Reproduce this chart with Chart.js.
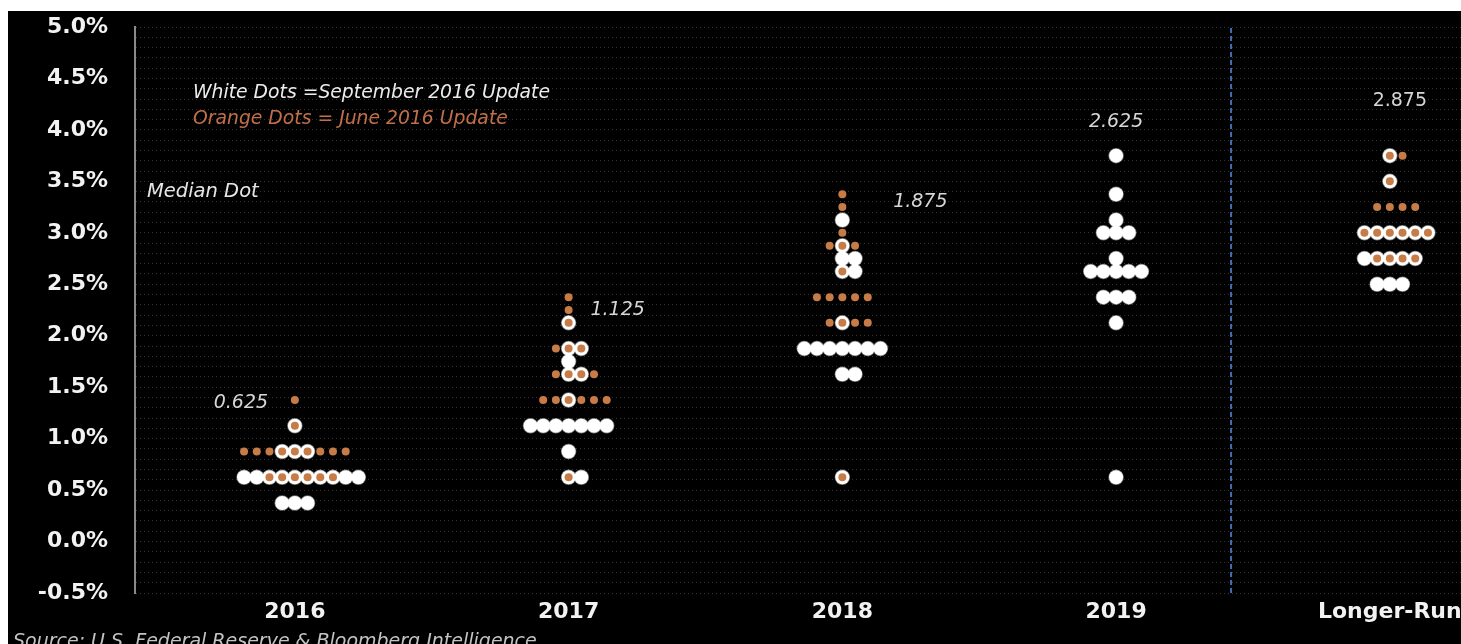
<!DOCTYPE html>
<html>
<head>
<meta charset="utf-8">
<script src="https://cdn.jsdelivr.net/npm/chart.js@4.4.1/dist/chart.umd.min.js"></script>
<style>
html,body{margin:0;padding:0;background:#fff;overflow:hidden}
#wrap{position:absolute;left:8px;top:11px;width:1453px;height:633px;background:#000}
</style>
</head>
<body>
<div id="wrap"><canvas id="c"></canvas></div>
<script>
// FOMC dot plot: one entry per participant (fed funds rate, %)
const categories = ['2016', '2017', '2018', '2019', 'Longer-Run'];

const sept2016 = [0.375,0.375,0.375, 0.625,0.625,0.625,0.625,0.625,0.625,0.625,0.625,0.625,0.625, 0.875,0.875,0.875, 1.125];
const sept2017 = [0.625,0.625, 0.875, 1.125,1.125,1.125,1.125,1.125,1.125,1.125, 1.375, 1.625,1.625, 1.75, 1.875,1.875, 2.125];
const sept2018 = [0.625, 1.625,1.625, 1.875,1.875,1.875,1.875,1.875,1.875,1.875, 2.125, 2.625,2.625, 2.75,2.75, 2.875, 3.125];
const sept2019 = [0.625, 2.125, 2.375,2.375,2.375, 2.625,2.625,2.625,2.625,2.625, 2.75, 3.0,3.0,3.0, 3.125, 3.375, 3.75];
const septLonger = [2.5,2.5,2.5, 2.75,2.75,2.75,2.75,2.75, 3.0,3.0,3.0,3.0,3.0,3.0, 3.5, 3.75];

const june2016 = [0.625,0.625,0.625,0.625,0.625,0.625, 0.875,0.875,0.875,0.875,0.875,0.875,0.875,0.875,0.875, 1.125, 1.375];
const june2017 = [0.625, 1.375,1.375,1.375,1.375,1.375,1.375, 1.625,1.625,1.625,1.625, 1.875,1.875,1.875, 2.125, 2.25, 2.375];
const june2018 = [0.625, 2.125,2.125,2.125,2.125, 2.375,2.375,2.375,2.375,2.375, 2.625, 2.875,2.875,2.875, 3.0, 3.25, 3.375];
const june2019 = [];
const juneLonger = [2.75,2.75,2.75,2.75, 3.0,3.0,3.0,3.0,3.0,3.0, 3.25,3.25,3.25,3.25, 3.5, 3.75,3.75];

const medians = [0.625, 1.125, 1.875, 2.625, 2.875];
const dividerAt = 3.42;   // dashed line between 2019 and Longer-Run

// layout / styling
const dotStep = 0.0464;   // horizontal spacing of equal dots, in category units
const medianLabelOffset = [[-54,-74], [49,-116], [78,-147], [0,-149], [10,-145]];

// equal values in a column sit side by side
function spread(lists){
  const pts = [];
  lists.forEach((vals, i) => {
    const counts = {};
    vals.forEach(v => { counts[v] = (counts[v] || 0) + 1; });
    Object.keys(counts).forEach(k => {
      const n = counts[k];
      for(let j = 0; j < n; j++){
        pts.push({x: i + (j - Math.floor((n - 1) / 2)) * dotStep, y: +k});
      }
    });
  });
  return pts;
}

const FONT = "'DejaVu Sans', sans-serif";

const textPlugin = {
  id: 'texts',
  afterDraw(chart){
    const ctx = chart.ctx, xs = chart.scales.x, ys = chart.scales.y;
    ctx.save();
    ctx.textBaseline = 'middle';
    ctx.textAlign = 'left';
    ctx.font = 'italic 18.8px ' + FONT;
    ctx.fillStyle = '#ececec';
    ctx.fillText('White Dots =September 2016 Update', 185, 82);
    ctx.fillStyle = '#c06f48';
    ctx.fillText('Orange Dots = June 2016 Update', 185, 108);
    ctx.font = 'italic 19.5px ' + FONT;
    ctx.fillStyle = '#e6e6e6';
    ctx.fillText('Median Dot', 139, 181);

    ctx.textAlign = 'center';
    ctx.fillStyle = '#d6d6d6';
    medians.forEach((m, i) => {
      const [dx, dy] = medianLabelOffset[i];
      ctx.font = (i === 4 ? '' : 'italic ') + '19px ' + FONT;
      ctx.fillText(m.toFixed(3), xs.getPixelForValue(i) + dx, ys.getPixelForValue(m) + dy);
    });

    ctx.textAlign = 'left';
    ctx.font = 'italic 19px ' + FONT;
    ctx.fillStyle = '#c4c4c4';
    ctx.fillText('Source: U.S. Federal Reserve & Bloomberg Intelligence', 5, 631);
    ctx.restore();
  }
};

new Chart(document.getElementById('c'), {
  type: 'scatter',
  data: {
    datasets: [
      { label: 'June 2016', data: spread([june2016, june2017, june2018, june2019, juneLonger]),
        backgroundColor: '#c77b46', borderWidth: 0, pointRadius: 4, pointHoverRadius: 4 },
      { label: 'September 2016', data: spread([sept2016, sept2017, sept2018, sept2019, septLonger]),
        backgroundColor: '#ffffff', borderColor: 'rgba(255,255,255,0.45)', borderWidth: 1.5,
        pointRadius: 7, pointHoverRadius: 7 },
      { type: 'line', label: 'divider', data: [{x: dividerAt, y: -0.5}, {x: dividerAt, y: 5}],
        borderColor: '#3f70b5', borderWidth: 2, borderDash: [5, 3], pointRadius: 0, fill: false }
    ]
  },
  options: {
    responsive: true,
    maintainAspectRatio: false,
    animation: false,
    layout: { autoPadding: false, padding: { top: 16, right: 0, bottom: 0, left: 0 } },
    plugins: { legend: { display: false }, tooltip: { enabled: false } },
    scales: {
      x: {
        type: 'linear', min: -0.584, max: 4.26,
        afterBuildTicks: s => { s.ticks = categories.map((c, i) => ({value: i})); },
        afterFit: s => { s.height = 51; s.paddingLeft = 0; s.paddingRight = 0; },
        grid: { display: false, drawTicks: false },
        border: { display: false },
        ticks: { color: '#f2f2f2', padding: 6, maxRotation: 0, autoSkip: false,
          font: { family: FONT, size: 22, weight: 'bold' },
          callback: v => categories[v] }
      },
      y: {
        min: -0.5, max: 5.0,
        afterFit: s => { s.width = 127; s.paddingTop = 0; s.paddingBottom = 0; },
        grid: { color: 'rgba(255,255,255,0.2)', lineWidth: 1, drawTicks: false },
        border: { display: true, color: '#8a8a8a', width: 2, dash: [1, 3] },
        ticks: { stepSize: 0.1, autoSkip: false, color: '#f2f2f2', padding: 27,
          font: { family: FONT, size: 22, weight: 'bold' },
          callback: v => {
            const t = Math.round(v * 10);
            return t % 5 === 0 ? (t / 10).toFixed(1) + '%' : '';
          } }
      }
    }
  },
  plugins: [textPlugin]
});
</script>
</body>
</html>
